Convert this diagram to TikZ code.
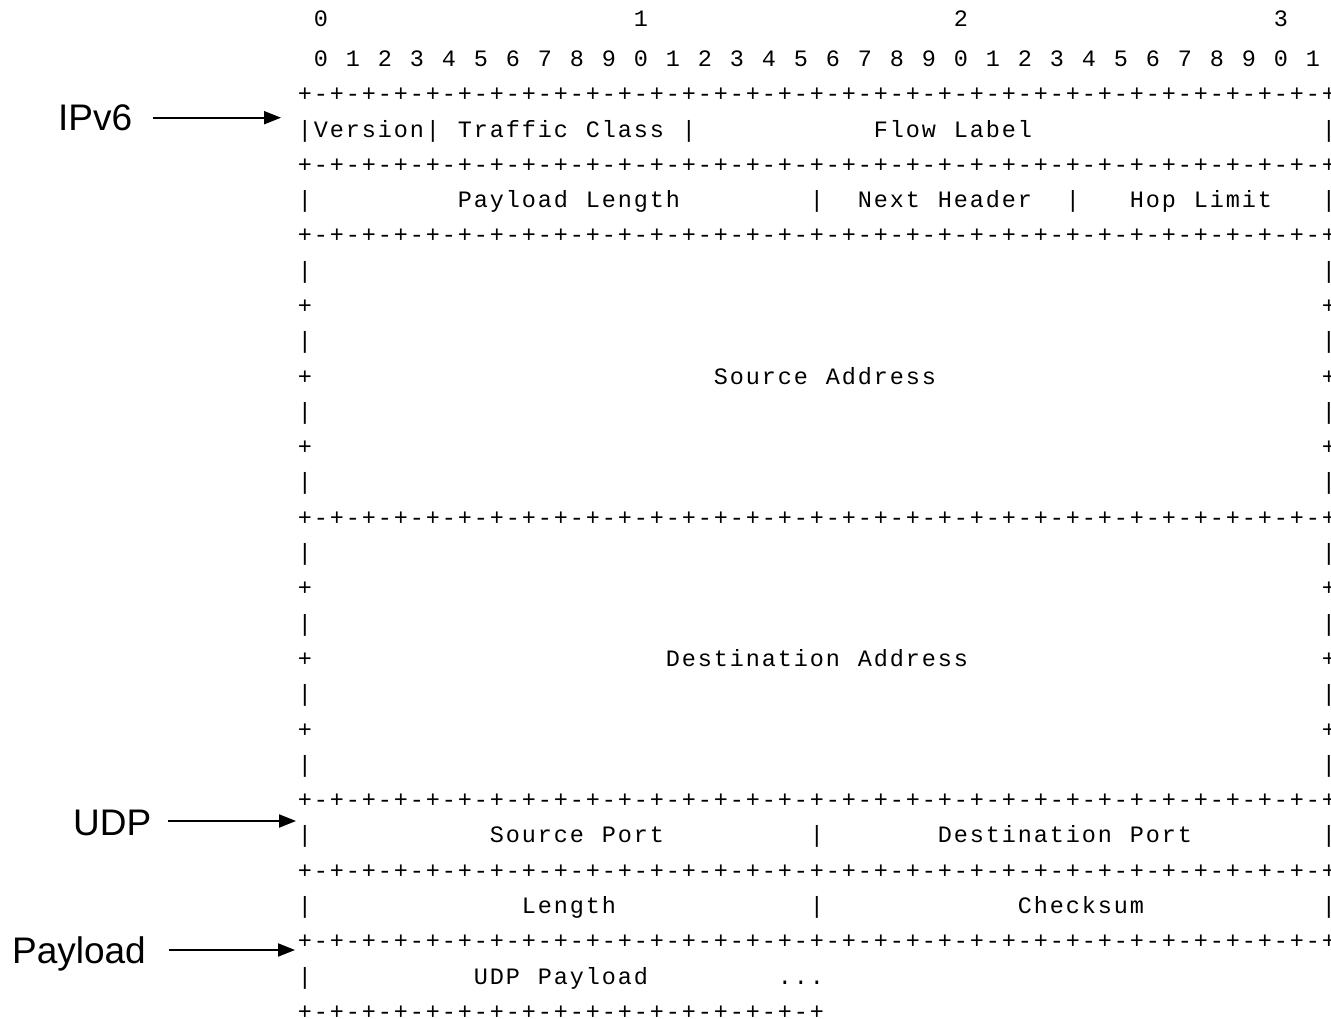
\documentclass[tikz,border=0pt]{standalone}
\usepackage{fontspec}
\usetikzlibrary{arrows.meta}
\setsansfont{Liberation Sans}
\newfontfamily\asciifont{Liberation Mono}

% Typeset a word one character per fixed 16pt cell (ASCII-art pitch).
\makeatletter
\newcommand\cellrow[1]{\@tfor\cellch:=#1\do{\makebox[16pt][c]{\cellch}}}
\makeatother
% Eight bits of a separator line, and full / half separator lines.
\newcommand\octet{\cellrow{+-+-+-+-+-+-+-+-}}
\newcommand\fullsep{\octet\octet\octet\octet\cellrow{+}}
\newcommand\halfsep{\octet\octet\cellrow{+}}

\begin{document}
\begin{tikzpicture}[x=1pt,y=-1pt,
  ascii/.style={anchor=base west, inner sep=0pt, outer sep=0pt,
    font=\asciifont\fontsize{23.5}{28}\selectfont},
  tag/.style={anchor=base west, inner sep=0pt, outer sep=0pt,
    font=\sffamily\fontsize{37}{44}\selectfont},
  ptr/.style={line width=2pt, -{Triangle[length=17pt,width=13pt]}}]

\fill[white] (0,0) rectangle (1331,1019);
\useasboundingbox (0,0) rectangle (1331,1019);

% ---------------- header layout: column = bit cell, row = text line
\begin{scope}[shift={(297,31.21)}, x=16pt, y=-35.29pt]

  % bit numbering
  \node[ascii] (ten0) at (1,-0.133)  {\cellrow{0}};
  \node[ascii] (ten1) at (21,-0.133) {\cellrow{1}};
  \node[ascii] (ten2) at (41,-0.133) {\cellrow{2}};
  \node[ascii] (ten3) at (61,-0.133) {\cellrow{3}};
  \foreach \i [evaluate=\i as \bitd using {int(mod(\i,10))}] in {0,...,31}
    \node[ascii] (bit\i) at ({2*\i+1},1) {\cellrow{\bitd}};

  % IPv6 fixed header
  \node[ascii] (sep2) at (0,2) {\fullsep};

  \node[ascii] (r3a) at (0,3)  {\cellrow{|}};
  \node[ascii] (ver) at (1,3)  {\cellrow{Version}};
  \node[ascii] (r3b) at (8,3)  {\cellrow{|}};
  \node[ascii] (tcA) at (10,3) {\cellrow{Traffic}};
  \node[ascii] (tcB) at (18,3) {\cellrow{Class}};
  \node[ascii] (r3c) at (24,3) {\cellrow{|}};
  \node[ascii] (flA) at (36,3) {\cellrow{Flow}};
  \node[ascii] (flB) at (41,3) {\cellrow{Label}};
  \node[ascii] (r3d) at (64,3) {\cellrow{|}};

  \node[ascii] (sep4) at (0,4) {\fullsep};

  \node[ascii] (r5a) at (0,5)  {\cellrow{|}};
  \node[ascii] (plA) at (10,5) {\cellrow{Payload}};
  \node[ascii] (plB) at (18,5) {\cellrow{Length}};
  \node[ascii] (r5b) at (32,5) {\cellrow{|}};
  \node[ascii] (nhA) at (35,5) {\cellrow{Next}};
  \node[ascii] (nhB) at (40,5) {\cellrow{Header}};
  \node[ascii] (r5c) at (48,5) {\cellrow{|}};
  \node[ascii] (hlA) at (52,5) {\cellrow{Hop}};
  \node[ascii] (hlB) at (56,5) {\cellrow{Limit}};
  \node[ascii] (r5d) at (64,5) {\cellrow{|}};

  \node[ascii] (sep6) at (0,6) {\fullsep};

  % 128-bit address blocks: side walls
  \foreach \k in {7,9,11,13,15,17,19,21} {
    \node[ascii] (wl\k) at (0,\k)  {\cellrow{|}};
    \node[ascii] (wr\k) at (64,\k) {\cellrow{|}};
  }
  \foreach \k in {8,10,12,16,18,20} {
    \node[ascii] (jl\k) at (0,\k)  {\cellrow{+}};
    \node[ascii] (jr\k) at (64,\k) {\cellrow{+}};
  }
  \node[ascii] (saA) at (26,10) {\cellrow{Source}};
  \node[ascii] (saB) at (33,10) {\cellrow{Address}};

  \node[ascii] (sep14) at (0,14) {\fullsep};

  \node[ascii] (daA) at (23,18) {\cellrow{Destination}};
  \node[ascii] (daB) at (35,18) {\cellrow{Address}};

  % UDP header
  \node[ascii] (sep22) at (0,22) {\fullsep};

  \node[ascii] (r23a) at (0,23)  {\cellrow{|}};
  \node[ascii] (spA)  at (12,23) {\cellrow{Source}};
  \node[ascii] (spB)  at (19,23) {\cellrow{Port}};
  \node[ascii] (r23b) at (32,23) {\cellrow{|}};
  \node[ascii] (dpA)  at (40,23) {\cellrow{Destination}};
  \node[ascii] (dpB)  at (52,23) {\cellrow{Port}};
  \node[ascii] (r23c) at (64,23) {\cellrow{|}};

  \node[ascii] (sep24) at (0,24) {\fullsep};

  \node[ascii] (r25a) at (0,25)  {\cellrow{|}};
  \node[ascii] (len)  at (14,25) {\cellrow{Length}};
  \node[ascii] (r25b) at (32,25) {\cellrow{|}};
  \node[ascii] (csum) at (45,25) {\cellrow{Checksum}};
  \node[ascii] (r25c) at (64,25) {\cellrow{|}};

  % payload
  \node[ascii] (sep26) at (0,26) {\fullsep};

  \node[ascii] (r27a) at (0,27)  {\cellrow{|}};
  \node[ascii] (upA)  at (11,27) {\cellrow{UDP}};
  \node[ascii] (upB)  at (15,27) {\cellrow{Payload}};
  \node[ascii] (dots) at (30,27) {\cellrow{...}};

  \node[ascii] (sep28) at (0,28) {\halfsep};
\end{scope}

% ---------------- layer markers
\node[tag] (ipv6) at (58.2,131) {IPv6};
\node[tag] (udp) at (73.2,835) {UDP};
\node[tag] (payload) at (12.1,963.3) {Payload};

\coordinate (ipv6tip) at (281,117.7);
\coordinate (udptip) at (296,821);
\coordinate (paytip) at (295,950);

\draw[ptr, shorten <=20.8pt] (ipv6.east |- ipv6tip) -- (ipv6tip);
\draw[ptr, shorten <=16.7pt] (udp.east |- udptip) -- (udptip);
\draw[ptr, shorten <=23.2pt] (payload.east |- paytip) -- (paytip);

\end{tikzpicture}
\end{document}
